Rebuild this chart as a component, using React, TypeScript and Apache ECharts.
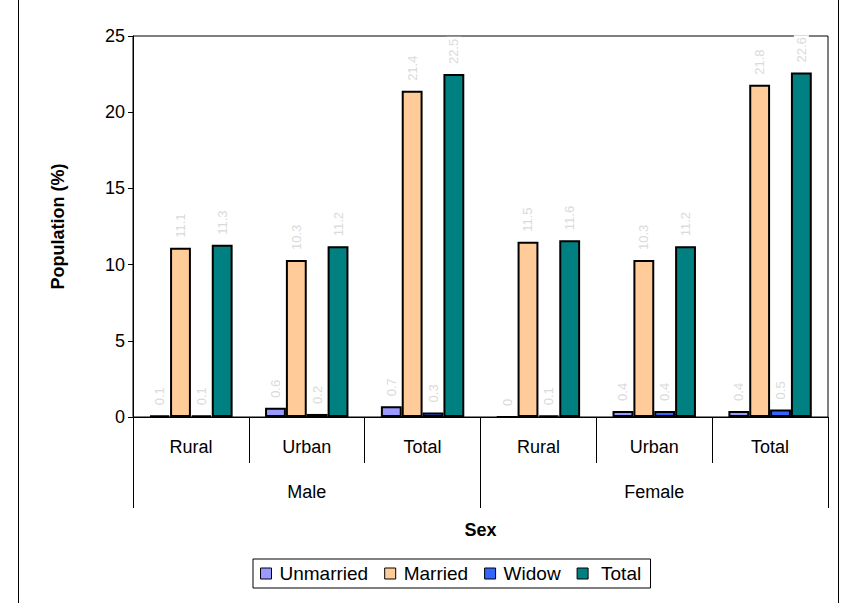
import React, { useEffect, useRef } from "react";
import * as echarts from "echarts";

// Residence categories (inner axis level) and sex groups (outer axis level)
const residence = ["Rural", "Urban", "Total", "Rural", "Urban", "Total"];
const sexGroups = ["Male", "Female"];

// Population share (%) by marital status
const unmarried = [0.1, 0.6, 0.7, 0, 0.4, 0.4];
const married = [11.1, 10.3, 21.4, 11.5, 10.3, 21.8];
const widow = [0.1, 0.2, 0.3, 0.1, 0.4, 0.5];
const total = [11.3, 11.2, 22.5, 11.6, 11.2, 22.6];

const seriesNames = ["Unmarried", "Married", "Widow", "Total"];
const seriesColors = ["#9999FF", "#FFCC99", "#3366FF", "#008080"];
const seriesData = [unmarried, married, widow, total];

const FONT = "'Liberation Sans', Arial, sans-serif";

export default function App() {
  const ref = useRef<HTMLDivElement>(null);

  useEffect(() => {
    if (!ref.current) return;
    const chart = echarts.init(ref.current, undefined, { renderer: "svg" });

    const series = seriesNames.map((name, i) => ({
      name,
      type: "bar",
      xAxisIndex: 0,
      data: seriesData[i],
      barGap: "0%",
      barCategoryGap: "28%",
      itemStyle: { color: seriesColors[i], borderColor: "#000", borderWidth: 2 },
      label: {
        show: true,
        position: "top",
        rotate: 90,
        align: "left",
        verticalAlign: "middle",
        distance: 8,
        fontSize: 13,
        fontFamily: FONT,
        color: "#dadada",
        backgroundColor: "#fff",
        padding: [1, 2],
      },
    }));

    chart.setOption({
      animation: false,
      backgroundColor: "#fff",
      textStyle: { fontFamily: FONT },
      grid: {
        left: 133,
        top: 36,
        right: 22,
        bottom: 186,
        show: true,
        borderColor: "#000",
        borderWidth: 1,
        backgroundColor: "transparent",
      },
      legend: {
        data: seriesNames,
        left: 253,
        top: 559,
        padding: [5, 9, 5, 7],
        itemGap: 16,
        itemWidth: 11,
        itemHeight: 11,
        borderColor: "#000",
        borderWidth: 1,
        icon: "rect",
        formatter: (name: string) => (name === "Total" ? " " + name : name),
        itemStyle: { borderColor: "#000", borderWidth: 1 },
        textStyle: { fontSize: 19, color: "#000", fontFamily: FONT, padding: [0, 0, 0, 3] },
      },
      xAxis: [
        {
          type: "category",
          data: residence,
          position: "bottom",
          axisLine: { onZero: false, lineStyle: { color: "#000", width: 1 } },
          axisTick: { show: true, interval: 0, length: 46, lineStyle: { color: "#000" } },
          axisLabel: { interval: 0, margin: 21, fontSize: 18, color: "#000", fontFamily: FONT },
        },
        {
          type: "category",
          data: sexGroups,
          position: "bottom",
          name: "Sex",
          nameLocation: "middle",
          nameGap: 104,
          nameTextStyle: { fontSize: 18, fontWeight: "bold", color: "#000", fontFamily: FONT },
          axisLine: { show: false, onZero: false },
          axisTick: { show: true, interval: 0, length: 91, lineStyle: { color: "#000" } },
          axisLabel: { interval: 0, margin: 66, fontSize: 18, color: "#000", fontFamily: FONT },
        },
      ],
      yAxis: {
        type: "value",
        min: 0,
        max: 25,
        interval: 5,
        name: "Population (%)",
        nameLocation: "middle",
        nameGap: 66,
        nameTextStyle: { fontSize: 18, fontWeight: "bold", color: "#000", fontFamily: FONT },
        axisLine: { show: true, lineStyle: { color: "#000" } },
        axisTick: { show: true, length: 5, lineStyle: { color: "#000" } },
        splitLine: { show: false },
        axisLabel: { fontSize: 18, color: "#000", margin: 8, fontFamily: FONT },
      },
      graphic: [
        { type: "line", shape: { x1: 18.5, y1: 0, x2: 18.5, y2: 603 }, style: { stroke: "#000", lineWidth: 1 } },
        { type: "line", shape: { x1: 838.5, y1: 0, x2: 838.5, y2: 603 }, style: { stroke: "#000", lineWidth: 1 } },
      ],
      series,
    });

    return () => chart.dispose();
  }, []);

  return (
    <div
      ref={ref}
      style={{ position: "fixed", left: 0, top: 0, width: 850, height: 603 }}
    />
  );
}
